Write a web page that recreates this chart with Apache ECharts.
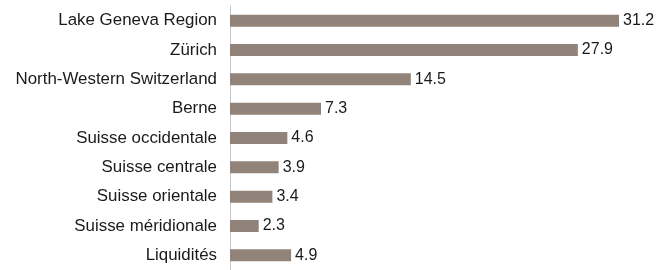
<!DOCTYPE html>
<html>
<head>
<meta charset="utf-8">
<script src="https://cdn.jsdelivr.net/npm/echarts@6/dist/echarts.min.js"></script>
<style>
  html, body { margin: 0; padding: 0; background: #fff; }
  #chart { width: 671px; height: 270px; }
</style>
</head>
<body>
<div id="chart"></div>
<script>
  // categories top to bottom
  const regions = ['Lake Geneva Region', 'Zürich', 'North-Western Switzerland', 'Berne',
    'Suisse occidentale', 'Suisse centrale', 'Suisse orientale', 'Suisse méridionale', 'Liquidités'];
  const shares = [31.2, 27.9, 14.5, 7.3, 4.6, 3.9, 3.4, 2.3, 4.9];

  const font = '"Liberation Sans", Arial, sans-serif';
  const chart = echarts.init(document.getElementById('chart'));

  chart.setOption({
    animation: false,
    grid: { left: 230, right: 4.6, top: 6, bottom: 0, containLabel: false },
    xAxis: {
      type: 'value',
      min: 0,
      max: 35,
      show: false
    },
    yAxis: {
      type: 'category',
      inverse: true,
      data: regions,
      axisLine: { show: true, lineStyle: { color: '#c8c8c8', width: 1 } },
      axisTick: { show: false },
      axisLabel: { color: '#1a1a1a', fontSize: 16.9, fontFamily: font, margin: 13 }
    },
    series: [{
      type: 'bar',
      data: shares,
      barWidth: 12,
      itemStyle: { color: '#918379' },
      label: {
        show: true,
        position: 'right',
        distance: 4,
        color: '#1a1a1a',
        fontSize: 16,
        fontFamily: font,
        formatter: p => p.value.toFixed(1)
      }
    }]
  });
</script>
</body>
</html>
